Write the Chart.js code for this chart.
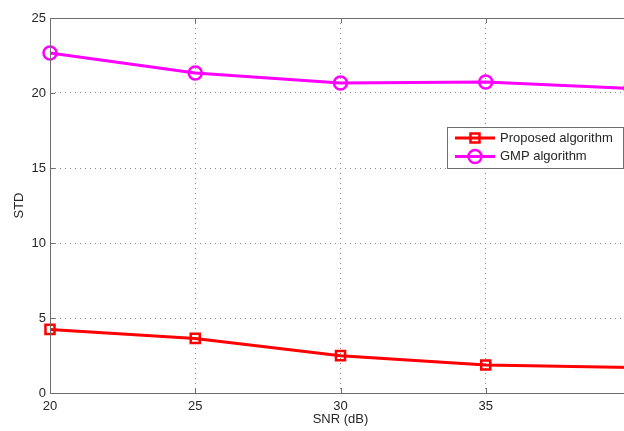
<!DOCTYPE html>
<html>
<head>
<meta charset="utf-8">
<script src="https://cdn.jsdelivr.net/npm/chart.js@4/dist/chart.umd.min.js"></script>
<style>
  html, body { margin: 0; padding: 0; background: #fff; overflow: hidden; }
  #wrap { width: 660px; height: 431px; }
</style>
</head>
<body>
<div id="wrap"><canvas id="c" width="660" height="431"></canvas></div>
<script>
// SNR sweep (dB) and measured standard deviation of each estimator
const snrValues = [20, 25, 30, 35, 40];
const proposedStd = [4.24, 3.64, 2.49, 1.87, 1.70];
const gmpStd = [22.67, 21.33, 20.67, 20.73, 20.30];
const seriesNames = ['Proposed algorithm', 'GMP algorithm'];
const xTicks = [20, 25, 30, 35, 40];
const yTicks = [0, 5, 10, 15, 20, 25];

const FONT = 'Liberation Sans, Arial, Helvetica, sans-serif';
const TEXT = '#262626';
const FRAME = '#6e6e6e';

const toPoints = (ys) => snrValues.map((x, i) => ({ x, y: ys[i] }));

// Axes box, inward tick marks and the boxed legend
const framePlugin = {
  id: 'frame',
  afterDraw(chart) {
    const { ctx, chartArea: a, scales } = chart;
    ctx.save();
    ctx.strokeStyle = FRAME;
    ctx.lineWidth = 1;
    ctx.setLineDash([]);
    ctx.beginPath();
    ctx.moveTo(a.left + 0.5, a.top + 0.5);
    ctx.lineTo(a.right, a.top + 0.5);
    ctx.moveTo(a.left + 0.5, a.top);
    ctx.lineTo(a.left + 0.5, a.bottom + 0.5);
    ctx.lineTo(a.right, a.bottom + 0.5);
    ctx.stroke();
    // inward ticks
    ctx.beginPath();
    xTicks.forEach(v => {
      const px = Math.round(scales.x.getPixelForValue(v)) + 0.5;
      ctx.moveTo(px, a.bottom); ctx.lineTo(px, a.bottom - 5);
      ctx.moveTo(px, a.top); ctx.lineTo(px, a.top + 5);
    });
    yTicks.forEach(v => {
      const py = Math.round(scales.y.getPixelForValue(v)) + 0.5;
      ctx.moveTo(a.left, py); ctx.lineTo(a.left + 5, py);
    });
    ctx.stroke();

    // legend
    const lx = 447.5, ly = 127.5, lw = 176, lh = 41;
    ctx.fillStyle = '#fff';
    ctx.fillRect(lx, ly, lw, lh);
    ctx.strokeStyle = FRAME;
    ctx.strokeRect(lx, ly, lw, lh);
    chart.data.datasets.forEach((ds, i) => {
      const y = 138 + i * 18.5;
      ctx.strokeStyle = ds.borderColor;
      ctx.lineWidth = 3;
      ctx.beginPath();
      ctx.moveTo(455, y); ctx.lineTo(495, y);
      ctx.stroke();
      ctx.lineWidth = 2.5;
      ctx.beginPath();
      if (ds.pointStyle === 'circle') {
        ctx.arc(475, y, 6.5, 0, Math.PI * 2);
      } else {
        ctx.rect(470.5, y - 4.5, 9, 9);
      }
      ctx.stroke();
      ctx.fillStyle = TEXT;
      ctx.font = '13px ' + FONT;
      ctx.textBaseline = 'middle';
      ctx.textAlign = 'left';
      ctx.fillText(ds.label, 500, y);
    });
    ctx.restore();
  }
};

new Chart(document.getElementById('c'), {
  type: 'line',
  data: {
    datasets: [
      {
        label: seriesNames[0],
        data: toPoints(proposedStd),
        borderColor: '#ff0000',
        backgroundColor: 'rgba(0,0,0,0)',
        borderWidth: 3,
        pointStyle: 'rect',
        pointRadius: 6.4,
        pointBorderWidth: 2.5,
        pointBackgroundColor: 'rgba(0,0,0,0)',
        tension: 0
      },
      {
        label: seriesNames[1],
        data: toPoints(gmpStd),
        borderColor: '#ff00ff',
        backgroundColor: 'rgba(0,0,0,0)',
        borderWidth: 3,
        pointStyle: 'circle',
        pointRadius: 6.5,
        pointBorderWidth: 2.5,
        pointBackgroundColor: 'rgba(0,0,0,0)',
        tension: 0
      }
    ]
  },
  options: {
    responsive: false,
    animation: false,
    events: [],
    clip: false,
    layout: { padding: { top: 18, right: 29, bottom: 0, left: 0 } },
    plugins: { legend: { display: false }, tooltip: { enabled: false } },
    scales: {
      x: {
        type: 'linear',
        min: 20, max: 40,
        afterBuildTicks: (s) => { s.ticks = xTicks.map(v => ({ value: v })); },
        afterFit: (s) => { s.height = 38; },
        ticks: { color: TEXT, font: { family: FONT, size: 13 }, padding: 6, maxRotation: 0 },
        grid: { color: '#8c8c8c', lineWidth: 1, drawTicks: false },
        border: { display: false, dash: [1, 4] },
        title: { display: true, text: 'SNR (dB)', color: TEXT, font: { family: FONT, size: 13 }, padding: { top: 0, bottom: 4 } }
      },
      y: {
        type: 'linear',
        min: 0, max: 25,
        afterBuildTicks: (s) => { s.ticks = yTicks.map(v => ({ value: v })); },
        afterFit: (s) => { s.width = 50; },
        ticks: { color: TEXT, font: { family: FONT, size: 13 }, padding: 4 },
        grid: { color: '#8c8c8c', lineWidth: 1, drawTicks: false },
        border: { display: false, dash: [1, 4] },
        title: { display: true, text: 'STD', color: TEXT, font: { family: FONT, size: 13 }, padding: { top: 12, bottom: 0 } }
      }
    }
  },
  plugins: [framePlugin]
});
</script>
</body>
</html>
